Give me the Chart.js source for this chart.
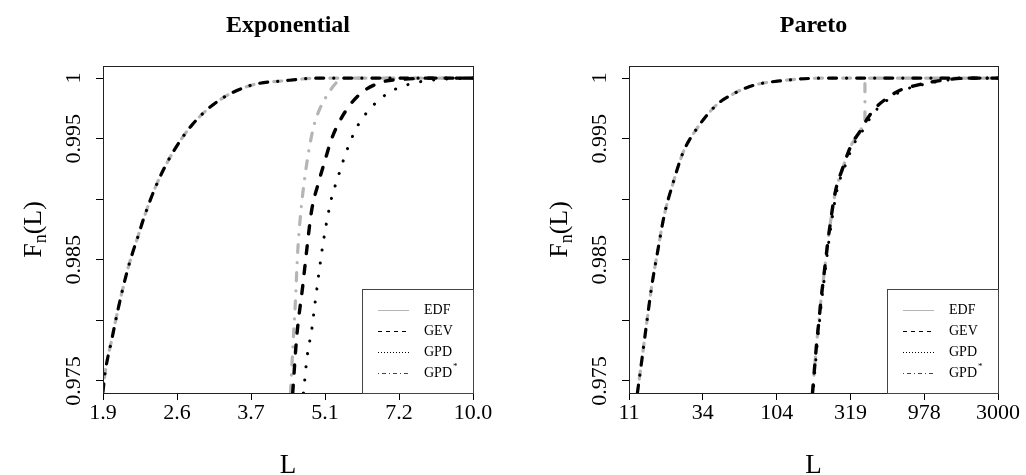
<!DOCTYPE html>
<html>
<head>
<meta charset="utf-8">
<script src="https://cdn.jsdelivr.net/npm/chart.js@4.4.1/dist/chart.umd.min.js"></script>
<style>
  html, body { margin: 0; padding: 0; background: #fff; }
  #wrap { position: relative; width: 1026px; height: 475px; }
  canvas { position: absolute; top: 0; }
</style>
</head>
<body>
<div id="wrap">
  <canvas id="expChart" width="513" height="475" style="left:0"></canvas>
  <canvas id="parChart" width="513" height="475" style="left:513px"></canvas>
</div>
<script>
// -------------------------------------------------------------
// Data
// -------------------------------------------------------------
const yTickValues = [0.975, 0.980, 0.985, 0.990, 0.995, 1]
const yTickLabels = ['0.975', '', '0.985', '', '0.995', '1']

// Exponential panel
const expTickValues = [1.9, 2.649, 3.692, 5.147, 7.175, 10.0]
const expTickLabels = ['1.9', '2.6', '3.7', '5.1', '7.2', '10.0']

const expLowX = [1.90, 1.917, 1.976, 2.035, 2.113, 2.167, 2.226, 2.276, 2.410, 2.586, 2.829, 3.184, 3.687, 4.334, 5.032, 6.5, 10.0]
const expLowY = [0.9741, 0.9756, 0.9784, 0.9810, 0.9839, 0.9855, 0.9870, 0.9883, 0.9911, 0.9937, 0.9961, 0.9981, 0.9994, 0.9998, 1.0000, 1.0000, 1.0000]

const expEdfX = [4.408, 4.458, 4.508, 4.549, 4.611, 4.694, 4.790, 4.898, 5.032, 5.216, 5.407, 5.554, 10.0]
const expEdfY = [0.9740, 0.9780, 0.9817, 0.9854, 0.9887, 0.9916, 0.9941, 0.9961, 0.9975, 0.9987, 0.9996, 1.0000, 1.0000]

const expGevX = [4.452, 4.532, 4.656, 4.741, 4.848, 4.994, 5.146, 5.303, 5.630, 6.068, 6.685, 7.313, 8.244, 10.0]
const expGevY = [0.9740, 0.9786, 0.9828, 0.9858, 0.9891, 0.9913, 0.9932, 0.9950, 0.9972, 0.9988, 0.9997, 0.9999, 1.0000, 1.0000]

const expGpdX = [4.673, 4.753, 4.848, 4.920, 4.994, 5.071, 5.169, 5.287, 5.463, 5.673, 5.949, 6.375, 6.920, 7.684, 8.662, 10.0]
const expGpdY = [0.9740, 0.9771, 0.9792, 0.9814, 0.9835, 0.9856, 0.9878, 0.9899, 0.9919, 0.9940, 0.9960, 0.9977, 0.9989, 0.9996, 0.9999, 1.0000]

// Pareto panel
const parTickValues = [11, 33.8, 103.8, 318.8, 978, 3000]
const parTickLabels = ['11', '34', '104', '319', '978', '3000']

const parLowX = [12.5, 13.46, 14.40, 15.53, 17.01, 18.81, 21.57, 25.11, 31.54, 41.71, 53.68, 72.76, 114.8, 210.8, 500, 3000]
const parLowY = [0.9740, 0.9770, 0.9798, 0.9828, 0.9857, 0.9887, 0.9914, 0.9939, 0.9960, 0.9978, 0.9987, 0.9994, 0.9998, 1.0000, 1.0000, 1.0000]

const parGevX = [178.9, 185.8, 191.5, 197.5, 203.6, 210.8, 218.7, 227.5, 237.0, 246.2, 259.6, 280.1, 302.3, 326.2, 368.3, 409.6, 462.6, 563.6, 676.4, 862.8, 1117, 1446, 1872, 3000]
const parGevY = [0.9740, 0.9765, 0.9784, 0.9800, 0.9817, 0.9833, 0.9850, 0.9868, 0.9884, 0.9898, 0.9912, 0.9924, 0.9936, 0.9946, 0.9956, 0.9966, 0.9975, 0.9984, 0.9990, 0.9994, 0.9997, 0.9999, 1.0000, 1.0000]

const parGpdX = [180.5, 187.5, 193.5, 199.5, 206.0, 213.5, 221.5, 231.0, 241.0, 251.0, 265.0, 287.0, 311.0, 337.0, 381.0, 425.0, 482.0, 590.0, 712.0, 910.0, 1180, 1530, 1990, 3000]
const parGpdY = [0.9740, 0.9765, 0.9784, 0.9800, 0.9817, 0.9833, 0.9850, 0.9868, 0.9884, 0.9898, 0.9912, 0.9924, 0.9936, 0.9946, 0.9956, 0.9966, 0.9975, 0.9984, 0.9990, 0.9994, 0.9997, 0.9999, 1.0000, 1.0000]

const parEdfX = [178.9, 185.8, 191.5, 197.5, 203.6, 210.8, 218.7, 227.5, 237.0, 246.2, 259.6, 280.1, 302.3, 326.2, 368.3, 397, 397, 3000]
const parEdfY = [0.9740, 0.9765, 0.9784, 0.9800, 0.9817, 0.9833, 0.9850, 0.9868, 0.9884, 0.9898, 0.9912, 0.9924, 0.9936, 0.9946, 0.9956, 0.9964, 1.0000, 1.0000]

const legendLabels = ['EDF', 'GEV', 'GPD', 'GPD']   // last one carries a superscript *

// -------------------------------------------------------------
// Styles
// -------------------------------------------------------------
const SERIF = '"Liberation Serif", "Times New Roman", serif'
const GRAY = '#b5b5b5'

const lineStyles = {
  grayDashDot: { borderColor: GRAY, borderWidth: 3.2, borderDash: [8, 10, 0.1, 10] },
  blackDashDot: { borderColor: '#000', borderWidth: 3.2, borderDash: [8, 10, 0.1, 10] },
  blackDashed: { borderColor: '#000', borderWidth: 3.4, borderDash: [8, 12] },
  blackDotted: { borderColor: '#000', borderWidth: 3, borderDash: [0.1, 13] }
}

const legendStyles = [
  { color: GRAY, dash: [] },
  { color: '#000', dash: [4, 4] },
  { color: '#000', dash: [1, 2] },
  { color: '#444', dash: [1, 3, 4, 3] }
]

const toPoints = (xs, ys) => xs.map((x, i) => ({ x, y: ys[i] }))

function line(xs, ys, style, extra = {}) {
  return {
    data: toPoints(xs, ys),
    pointRadius: 0,
    fill: false,
    borderCapStyle: 'round',
    cubicInterpolationMode: 'monotone',
    ...style,
    ...extra
  }
}

// -------------------------------------------------------------
// Decorations: frame, titles, rotated y labels, legend
// -------------------------------------------------------------
const panelDeco = {
  id: 'panelDeco',
  afterDraw(chart, args, opts) {
    const { ctx, chartArea: a, scales } = chart
    ctx.save()

    ctx.strokeStyle = '#222'
    ctx.lineWidth = 1
    ctx.strokeRect(a.left + 0.5, a.top + 0.5, a.right - a.left, a.bottom - a.top)

    const cx = (a.left + a.right) / 2
    ctx.fillStyle = '#000'
    ctx.textAlign = 'center'
    ctx.textBaseline = 'alphabetic'
    ctx.font = `bold 24px ${SERIF}`
    ctx.fillText(opts.title, cx, 32)

    ctx.font = `27px ${SERIF}`
    ctx.fillText('L', cx, a.bottom + 80)

    // y tick labels, rotated like R's default
    ctx.font = `22px ${SERIF}`
    const y = scales.y
    yTickValues.forEach((v, i) => {
      if (!yTickLabels[i]) return
      ctx.save()
      ctx.translate(a.left - 23, y.getPixelForValue(v))
      ctx.rotate(-Math.PI / 2)
      ctx.textAlign = 'center'
      ctx.fillText(yTickLabels[i], 0, 0)
      ctx.restore()
    })

    // y axis title F_n(L)
    ctx.save()
    ctx.translate(a.left - 62, (a.top + a.bottom) / 2)
    ctx.rotate(-Math.PI / 2)
    ctx.textAlign = 'left'
    ctx.font = `26px ${SERIF}`
    const wF = ctx.measureText('F').width
    ctx.font = `18px ${SERIF}`
    const wN = ctx.measureText('n').width
    ctx.font = `26px ${SERIF}`
    const wL = ctx.measureText('(L)').width
    let tx = -(wF + wN + wL) / 2
    ctx.fillText('F', tx, 0)
    tx += wF
    ctx.font = `18px ${SERIF}`
    ctx.fillText('n', tx, 5)
    tx += wN
    ctx.font = `26px ${SERIF}`
    ctx.fillText('(L)', tx, 0)
    ctx.restore()

    // legend
    const lx = a.right - 111
    const ly = a.bottom - 104
    ctx.fillStyle = '#fff'
    ctx.fillRect(lx, ly, 111, 104)
    ctx.strokeStyle = '#444'
    ctx.strokeRect(lx + 0.5, ly + 0.5, 111, 104)
    legendLabels.forEach((label, i) => {
      const rowY = ly + 21 + i * 21
      const st = legendStyles[i]
      ctx.strokeStyle = st.color
      ctx.lineWidth = 1
      ctx.setLineDash(st.dash)
      ctx.beginPath()
      ctx.moveTo(lx + 16, rowY + 0.5)
      ctx.lineTo(lx + 47, rowY + 0.5)
      ctx.stroke()
      ctx.setLineDash([])
      ctx.fillStyle = '#000'
      ctx.textAlign = 'left'
      ctx.textBaseline = 'middle'
      ctx.font = `14px ${SERIF}`
      ctx.fillText(label, lx + 62, rowY)
      if (i === legendLabels.length - 1) {
        const w = ctx.measureText(label).width
        ctx.font = `9px ${SERIF}`
        ctx.fillText('*', lx + 62 + w + 1, rowY - 6)
      }
    })

    ctx.restore()
  }
}

function makePanel(canvasId, cfg) {
  return new Chart(document.getElementById(canvasId), {
    type: 'line',
    data: { datasets: cfg.datasets },
    options: {
      responsive: false,
      animation: false,
      devicePixelRatio: 1,
      layout: { padding: { top: 66, right: cfg.rightPad, bottom: 0, left: 0 } },
      plugins: {
        legend: { display: false },
        tooltip: { enabled: false },
        panelDeco: { title: cfg.title }
      },
      scales: {
        x: {
          type: 'logarithmic',
          min: cfg.xMin,
          max: cfg.xMax,
          afterBuildTicks: s => { s.ticks = cfg.tickValues.map(v => ({ value: v })) },
          afterFit: s => { s.height = 82 },
          ticks: {
            autoSkip: false,
            maxRotation: 0,
            padding: 0,
            color: '#000',
            font: { family: SERIF, size: 22 },
            callback: (v, i) => cfg.tickLabels[i]
          },
          grid: { drawOnChartArea: false, tickLength: 7, color: '#000' },
          border: { display: false }
        },
        y: {
          type: 'linear',
          min: 0.974,
          max: 1.001,
          afterBuildTicks: s => { s.ticks = yTickValues.map(v => ({ value: v })) },
          afterFit: s => { s.width = cfg.leftWidth },
          ticks: { display: false },
          grid: { drawOnChartArea: false, tickLength: 7, color: '#000' },
          border: { display: false }
        }
      }
    },
    plugins: [panelDeco]
  })
}

makePanel('expChart', {
  title: 'Exponential',
  xMin: 1.9, xMax: 10.0,
  tickValues: expTickValues, tickLabels: expTickLabels,
  leftWidth: 103, rightPad: 40,
  datasets: [
    line(expLowX, expLowY, lineStyles.blackDashDot),
    line(expGevX, expGevY, lineStyles.blackDashed),
    line(expGpdX, expGpdY, lineStyles.blackDotted),
    line(expEdfX, expEdfY, lineStyles.grayDashDot),
    line(expLowX, expLowY, lineStyles.grayDashDot, { borderDashOffset: 14 })
  ]
})

makePanel('parChart', {
  title: 'Pareto',
  xMin: 11, xMax: 3000,
  tickValues: parTickValues, tickLabels: parTickLabels,
  leftWidth: 116, rightPad: 28,
  datasets: [
    line(parLowX, parLowY, lineStyles.blackDashDot),
    line(parGevX, parGevY, lineStyles.blackDashed),
    line(parGpdX, parGpdY, lineStyles.blackDotted, { borderDashOffset: 6 }),
    line(parEdfX, parEdfY, lineStyles.grayDashDot, { cubicInterpolationMode: 'default', tension: 0 }),
    line(parLowX, parLowY, lineStyles.grayDashDot, { borderDashOffset: 14 })
  ]
})
</script>
</body>
</html>
